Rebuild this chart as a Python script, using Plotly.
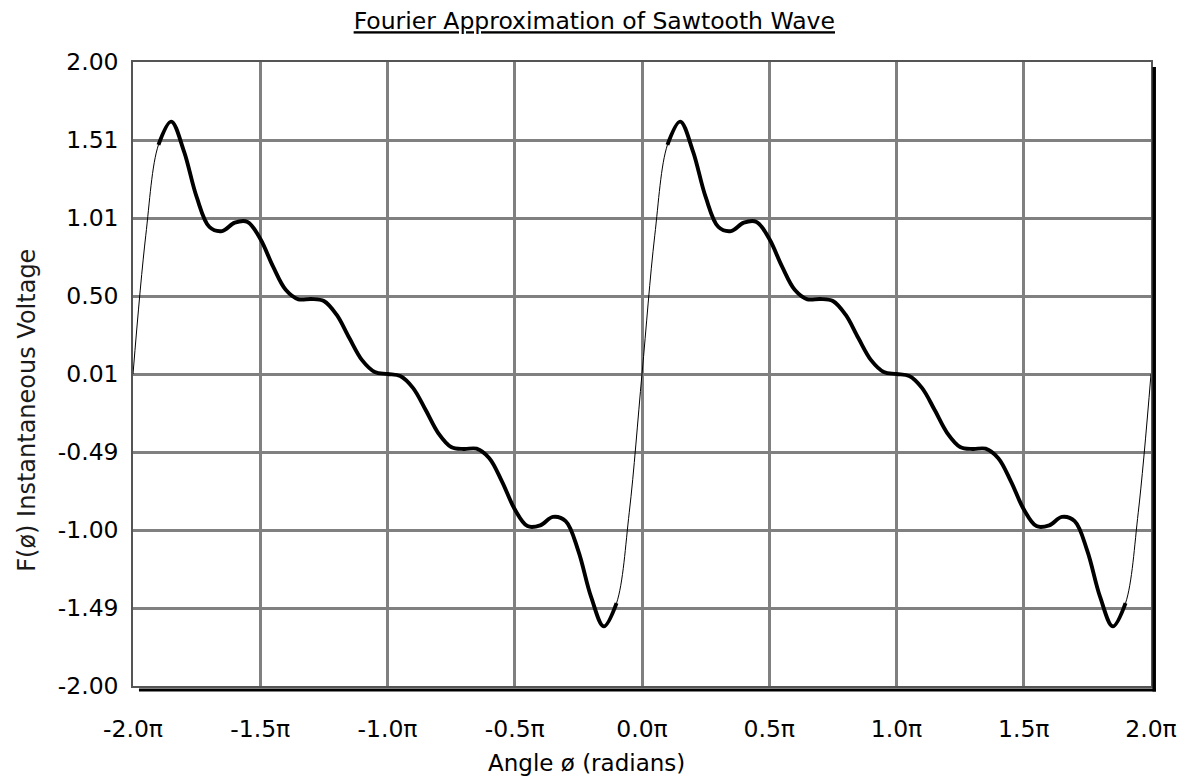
import plotly.graph_objects as go

# ---- data ----
# one period of the curve, angle in multiples of pi
ANGLE_PI = [0.00, 0.05, 0.10, 0.15, 0.20, 0.25, 0.30, 0.35, 0.40, 0.45,
            0.50, 0.55, 0.60, 0.65, 0.70, 0.75, 0.80, 0.85, 0.90, 0.95,
            1.00, 1.05, 1.10, 1.15, 1.20, 1.25, 1.30, 1.35, 1.40, 1.45,
            1.50, 1.55, 1.60, 1.65, 1.70, 1.75, 1.80, 1.85, 1.90, 1.95, 2.00]
VOLTAGE = [0.000, 0.886, 1.469, 1.618, 1.429, 1.135, 0.943, 0.916, 0.970, 0.975,
           0.867, 0.690, 0.540, 0.479, 0.481, 0.468, 0.380, 0.231, 0.089, 0.013,
           0.000, -0.013, -0.089, -0.231, -0.380, -0.468, -0.481, -0.479, -0.540, -0.690,
           -0.867, -0.975, -0.970, -0.916, -0.943, -1.135, -1.429, -1.618, -1.469, -0.886, 0.000]
PERIOD_STARTS = [-2.0, 0.0]

X_TICKS = [-2.0, -1.5, -1.0, -0.5, 0.0, 0.5, 1.0, 1.5, 2.0]
X_TICK_TEXT = ["-2.0π", "-1.5π", "-1.0π", "-0.5π", "0.0π", "0.5π", "1.0π", "1.5π", "2.0π"]
Y_TICKS = [-2.0, -1.5, -1.0, -0.5, 0.0, 0.5, 1.0, 1.5, 2.0]
Y_TICK_TEXT = ["-2.00", "-1.49", "-1.00", "-0.49", "0.01", "0.50", "1.01", "1.51", "2.00"]

TITLE = "Fourier Approximation of Sawtooth Wave"
X_TITLE = "Angle ø (radians)"
Y_TITLE = "F(ø) Instantaneous Voltage"

# thin curve over both periods
x_thin, y_thin = [], []
for i, s in enumerate(PERIOD_STARTS):
    xs = [s + a for a in ANGLE_PI]
    ys = list(VOLTAGE)
    if i > 0:
        xs, ys = xs[1:], ys[1:]
    x_thin += xs
    y_thin += ys

# bold part (everything except the steep rise)
x_bold, y_bold = [], []
for s in PERIOD_STARTS:
    x_bold += [s + a for a in ANGLE_PI[2:39]] + [None]
    y_bold += VOLTAGE[2:39] + [None]

fig = go.Figure()
fig.add_trace(go.Scatter(x=x_thin, y=y_thin, mode="lines",
                         line=dict(color="black", width=1, shape="spline", smoothing=1.0),
                         hoverinfo="skip"))
fig.add_trace(go.Scatter(x=x_bold, y=y_bold, mode="lines",
                         line=dict(color="black", width=3.9, shape="spline", smoothing=1.0),
                         connectgaps=False, hoverinfo="skip"))

W, H = 1189, 780
L, R, T, B = 133, 31, 62, 94
pw, ph = W - L - R, H - T - B

def px_x(p):
    return (p - L) / pw

def px_y(p):
    return (H - B - p) / ph

fig.update_layout(
    width=W, height=H,
    margin=dict(l=L, r=R, t=T, b=B),
    plot_bgcolor="white", paper_bgcolor="white",
    showlegend=False,
    font=dict(family="DejaVu Sans", color="black"),
    title=dict(text="<u>" + TITLE + "</u>", x=835 / W, xanchor="right", xref="container",
               y=1 - 21 / H, yanchor="middle", yref="container",
               font=dict(size=23.5, color="black")),
    xaxis=dict(range=[-2, 2], tickvals=X_TICKS, ticktext=X_TICK_TEXT,
               showgrid=True, gridcolor="#808080", gridwidth=2.5,
               showline=True, mirror=True, linecolor="#555555", linewidth=1.5,
               zeroline=False, ticks="", tickfont=dict(size=23.5, color="black"),
               ticklabelstandoff=21, fixedrange=True),
    yaxis=dict(range=[-2, 2], tickvals=Y_TICKS, ticktext=Y_TICK_TEXT,
               showgrid=True, gridcolor="#808080", gridwidth=2.5,
               showline=True, mirror=True, linecolor="#555555", linewidth=1.5,
               zeroline=False, ticks="", tickfont=dict(size=23.5, color="black"),
               ticklabelstandoff=8, fixedrange=True),
    annotations=[
        dict(text=X_TITLE, xref="paper", yref="paper", x=px_x(590), y=px_y(763),
             xanchor="center", yanchor="middle", showarrow=False,
             font=dict(size=23, color="black")),
        dict(text=Y_TITLE, xref="paper", yref="paper", x=px_x(26), y=px_y(410),
             xanchor="center", yanchor="middle", showarrow=False, textangle=-90,
             font=dict(size=24, color="#1a1a1a")),
    ],
    shapes=[
        dict(type="rect", xref="paper", yref="paper",
             x0=px_x(L + pw + 1.5), x1=px_x(L + pw + 5), y0=px_y(691.5), y1=px_y(67),
             fillcolor="black", line=dict(width=0), layer="above"),
        dict(type="rect", xref="paper", yref="paper",
             x0=px_x(139), x1=px_x(L + pw + 5), y0=px_y(691.5), y1=px_y(688.5),
             fillcolor="black", line=dict(width=0), layer="above"),
    ],
)

fig.write_html("out.html",
               config={"displayModeBar": False},
               post_script="document.body.style.margin='0px';document.body.style.overflow='hidden';")
